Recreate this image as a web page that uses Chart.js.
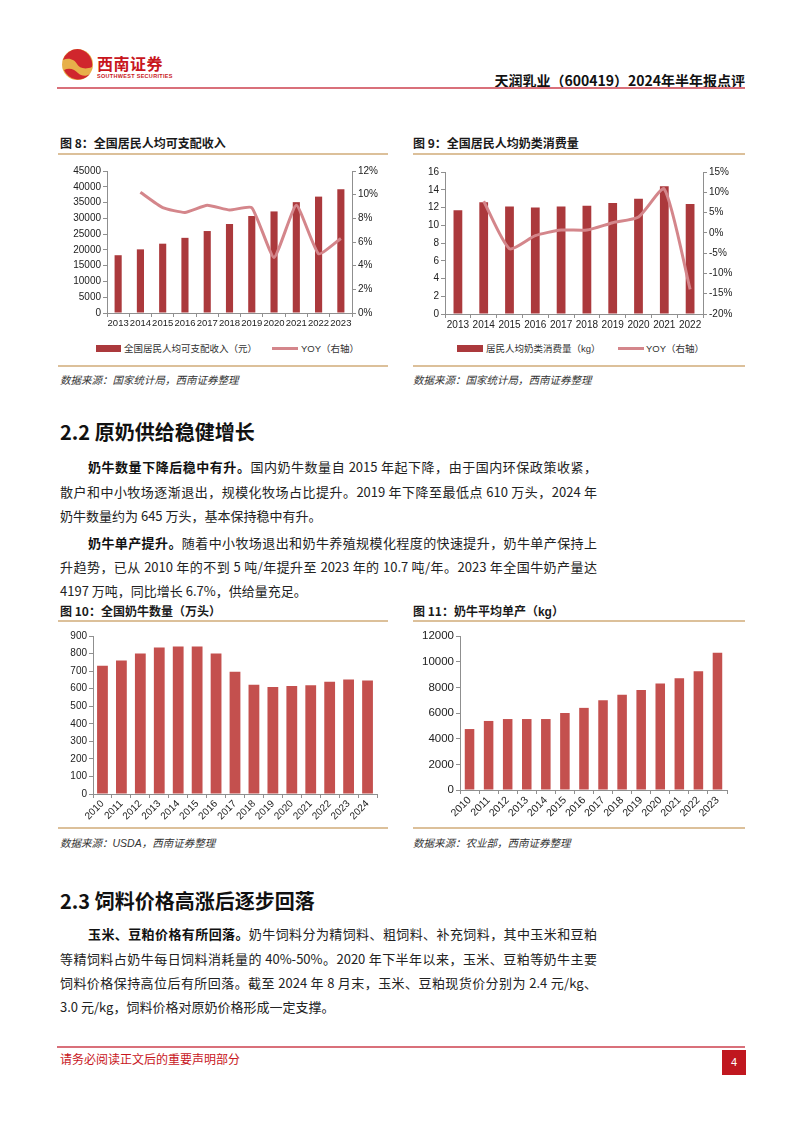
<!DOCTYPE html>
<html lang="zh-CN">
<head>
<meta charset="utf-8">
<title>天润乳业（600419）2024年半年报点评</title>
<script src="https://cdn.jsdelivr.net/npm/chart.js@4.4.1/dist/chart.umd.min.js"></script>
<style>
  html, body { margin: 0; padding: 0; background: #fff; }
  #page { position: relative; width: 802px; height: 1133px; overflow: hidden; font-family: "Noto Sans CJK SC", "Noto Sans", sans-serif; color: #1a1a1a; }
  .abs { position: absolute; }
  .rule-red { position: absolute; left: 57px; width: 688px; height: 2px; background: #d9707a; }
  .rule-tan { position: absolute; height: 2px; background: #dcc09a; }
  .figtitle { position: absolute; font-size: 12px; font-weight: 700; line-height: 16px; white-space: nowrap; }
  .source { position: absolute; font-size: 10.5px; font-style: italic; line-height: 14px; color: #333; white-space: nowrap; }
  .h2 { position: absolute; left: 60px; font-size: 20px; font-weight: 700; line-height: 26px; white-space: nowrap; color: #111; }
  .ln { position: absolute; left: 60px; width: 537px; font-size: 13px; line-height: 18px; text-align: justify; text-align-last: justify; color: #222; }
  .ln.first { left: 88px; width: 509px; }
  .ln.last { text-align-last: left; }
  .ln b { font-weight: 700; color: #111; }
  .box { position: absolute; }
  .legend { position: absolute; font-size: 9.5px; line-height: 12px; white-space: nowrap; color: #333; }
  .sw-bar { position: absolute; height: 7px; }
  .sw-line { position: absolute; height: 3px; background: #d4868b; }
</style>
</head>
<body>
<div id="page">

  <!-- 页眉 -->
  <svg class="abs" style="left:61px;top:48px" width="33" height="33" viewBox="0 0 33 33">
    <circle cx="16.5" cy="16.5" r="15.5" fill="#e7b04a"/>
    <path d="M16.5 1 A15.5 15.5 0 0 0 2 12 C8 9 14 12 16 16 C18 20 24 22 31 19 A15.5 15.5 0 0 0 16.5 1 Z" fill="#d0262d"/>
    <path d="M3 22 C9 19 14 22 17 25 C20 28 25 29 29 26 A15.5 15.5 0 0 1 3 22 Z" fill="#d0262d"/>
  </svg>
  <div class="abs" style="left:97px;top:53px;font-size:16px;font-weight:700;color:#c8161d;line-height:20px;letter-spacing:0.5px">西南证券</div>
  <div class="abs" style="left:97px;top:73px;font-size:5.5px;font-weight:700;color:#c8161d;line-height:7px;font-family:'Liberation Sans',sans-serif;letter-spacing:0.3px">SOUTHWEST SECURITIES</div>
  <div class="abs" style="right:57px;top:71px;font-size:14px;font-weight:700;line-height:18px;white-space:nowrap;color:#111">天润乳业（600419）2024年半年报点评</div>
  <div class="rule-red" style="top:87px"></div>

  <!-- 图 8 -->
  <div class="figtitle" style="left:60px;top:135px">图 8：全国居民人均可支配收入</div>
  <div class="rule-tan" style="left:58px;top:153px;width:330px"></div>
  <div class="box" style="left:58px;top:158px;width:330px;height:180px"><canvas id="c8"></canvas></div>
  <div class="sw-bar" style="left:96px;top:345px;width:25px;background:#ab393c"></div>
  <div class="legend" style="left:124px;top:342px">全国居民人均可支配收入（元）</div>
  <div class="sw-line" style="left:272px;top:347px;width:26px"></div>
  <div class="legend" style="left:301px;top:342px"><span style="font-family:'Liberation Sans',sans-serif">YOY</span>（右轴）</div>
  <div class="rule-tan" style="left:58px;top:365px;width:330px"></div>
  <div class="source" style="left:60px;top:373px">数据来源：国家统计局，西南证券整理</div>

  <!-- 图 9 -->
  <div class="figtitle" style="left:413px;top:135px">图 9：全国居民人均奶类消费量</div>
  <div class="rule-tan" style="left:413px;top:153px;width:332px"></div>
  <div class="box" style="left:413px;top:158px;width:332px;height:180px"><canvas id="c9"></canvas></div>
  <div class="sw-bar" style="left:457px;top:345px;width:26px;background:#ab393c"></div>
  <div class="legend" style="left:486px;top:342px">居民人均奶类消费量（<span style="font-family:'Liberation Sans',sans-serif">kg</span>）</div>
  <div class="sw-line" style="left:618px;top:347px;width:26px"></div>
  <div class="legend" style="left:646px;top:342px"><span style="font-family:'Liberation Sans',sans-serif">YOY</span>（右轴）</div>
  <div class="rule-tan" style="left:413px;top:365px;width:332px"></div>
  <div class="source" style="left:413px;top:373px">数据来源：国家统计局，西南证券整理</div>

  <!-- 2.2 -->
  <div class="h2" style="top:419px">2.2 原奶供给稳健增长</div>
  <div class="ln first" style="top:458px"><b>奶牛数量下降后稳中有升。</b>国内奶牛数量自 2015 年起下降，由于国内环保政策收紧，</div>
  <div class="ln" style="top:483px">散户和中小牧场逐渐退出，规模化牧场占比提升。2019 年下降至最低点 610 万头，2024 年</div>
  <div class="ln last" style="top:507px">奶牛数量约为 645 万头，基本保持稳中有升。</div>
  <div class="ln first" style="top:534px"><b>奶牛单产提升。</b>随着中小牧场退出和奶牛养殖规模化程度的快速提升，奶牛单产保持上</div>
  <div class="ln" style="top:558px">升趋势，已从 2010 年的不到 5 吨/年提升至 2023 年的 10.7 吨/年。2023 年全国牛奶产量达</div>
  <div class="ln last" style="top:582px">4197 万吨，同比增长 6.7%，供给量充足。</div>

  <!-- 图 10 -->
  <div class="figtitle" style="left:60px;top:603px">图 10：全国奶牛数量（万头）</div>
  <div class="rule-tan" style="left:58px;top:620px;width:330px"></div>
  <div class="box" style="left:58px;top:626px;width:330px;height:200px"><canvas id="c10"></canvas></div>
  <div class="rule-tan" style="left:58px;top:827px;width:330px"></div>
  <div class="source" style="left:60px;top:836px">数据来源：<span style="font-family:'Liberation Sans',sans-serif">USDA</span>，西南证券整理</div>

  <!-- 图 11 -->
  <div class="figtitle" style="left:413px;top:603px">图 11：奶牛平均单产（<span style="font-family:'Liberation Sans',sans-serif">kg</span>）</div>
  <div class="rule-tan" style="left:413px;top:620px;width:332px"></div>
  <div class="box" style="left:413px;top:626px;width:332px;height:200px"><canvas id="c11"></canvas></div>
  <div class="rule-tan" style="left:413px;top:827px;width:332px"></div>
  <div class="source" style="left:413px;top:836px">数据来源：农业部，西南证券整理</div>

  <!-- 2.3 -->
  <div class="h2" style="top:888px">2.3 饲料价格高涨后逐步回落</div>
  <div class="ln first" style="top:925px"><b>玉米、豆粕价格有所回落。</b>奶牛饲料分为精饲料、粗饲料、补充饲料，其中玉米和豆粕</div>
  <div class="ln" style="top:950px">等精饲料占奶牛每日饲料消耗量的 40%-50%。2020 年下半年以来，玉米、豆粕等奶牛主要</div>
  <div class="ln" style="top:974px">饲料价格保持高位后有所回落。截至 2024 年 8 月末，玉米、豆粕现货价分别为 2.4 元/kg、</div>
  <div class="ln last" style="top:998px">3.0 元/kg，饲料价格对原奶价格形成一定支撑。</div>

  <!-- 页脚 -->
  <div class="rule-red" style="top:1046px"></div>
  <div class="abs" style="left:60px;top:1051px;font-size:12px;line-height:16px;color:#c8161d;white-space:nowrap">请务必阅读正文后的重要声明部分</div>
  <div class="abs" style="left:722px;top:1050px;width:24px;height:25px;background:#c0171f;color:#fff;font-size:11px;line-height:25px;text-align:center;font-family:'Liberation Sans',sans-serif">4</div>
</div>

<script>
// 图8 全国居民人均可支配收入
const years8 = ["2013", "2014", "2015", "2016", "2017", "2018", "2019", "2020", "2021", "2022", "2023"];
const income = [18311, 20167, 21966, 23821, 25974, 28228, 30733, 32189, 35128, 36883, 39218];
const incomeYoy = [null, 10.2, 8.9, 8.5, 9.1, 8.7, 8.9, 4.7, 9.1, 5.0, 6.3];

// 图9 居民人均奶类消费量
const years9 = ["2013", "2014", "2015", "2016", "2017", "2018", "2019", "2020", "2021", "2022"];
const milkKg = [11.7, 12.6, 12.1, 12.0, 12.1, 12.2, 12.5, 13.0, 14.4, 12.4];
const milkYoy = [null, 7.8, -3.9, -0.7, 0.7, 0.7, 2.5, 3.9, 10.8, -13.9];

// 图10 全国奶牛数量（万头）
const years10 = ["2010", "2011", "2012", "2013", "2014", "2015", "2016", "2017", "2018", "2019", "2020", "2021", "2022", "2023", "2024"];
const cows = [730, 760, 800, 835, 840, 840, 800, 697, 622, 610, 615, 620, 640, 652, 646];

// 图11 奶牛平均单产（kg）
const years11 = ["2010", "2011", "2012", "2013", "2014", "2015", "2016", "2017", "2018", "2019", "2020", "2021", "2022", "2023"];
const yieldKg = [4750, 5380, 5530, 5530, 5530, 6000, 6400, 7000, 7420, 7800, 8300, 8700, 9250, 10700];

const darkRed = "#ab393c";
const red = "#c4504e";
const pink = "#d4868b";
const axisColor = "#8f8f8f";
const numFont = "'Liberation Sans', Arial, sans-serif";

// 固定坐标轴尺寸，保证绘图区位置
const fixW = w => s => { s.width = w; };
const fixH = h => s => { s.height = h; };

function axis(extra) {
  const base = {
    grid: { drawOnChartArea: false, drawTicks: true, tickLength: 4, color: axisColor },
    border: { color: axisColor, width: 1 },
    ticks: { color: "#222", font: { family: numFont, size: 10 }, padding: 2 },
  };
  return Object.assign(base, extra, {
    grid: Object.assign(base.grid, extra.grid || {}),
    ticks: Object.assign(base.ticks, extra.ticks || {}),
  });
}

const common = {
  responsive: true,
  maintainAspectRatio: false,
  animation: false,
  plugins: { legend: { display: false }, tooltip: { enabled: false } },
};

new Chart(document.getElementById("c8"), {
  type: "bar",
  data: {
    labels: years8,
    datasets: [
      { type: "line", data: incomeYoy, yAxisID: "y1", borderColor: pink, borderWidth: 3, pointRadius: 0, tension: 0.15, order: 0 },
      { type: "bar", data: income, yAxisID: "y", backgroundColor: darkRed, barPercentage: 0.32, categoryPercentage: 1, order: 1 },
    ],
  },
  options: Object.assign({}, common, {
    layout: { padding: { top: 13, left: 0, right: 0, bottom: 0 } },
    scales: {
      x: axis({ grid: { offset: true }, ticks: { autoSkip: false, maxRotation: 0, minRotation: 0, padding: 1, font: { family: numFont, size: 9.5 } }, afterFit: fixH(25) }),
      y: axis({ position: "left", min: 0, max: 45000, ticks: { stepSize: 5000, callback: v => String(v) }, afterFit: fixW(49) }),
      y1: axis({ position: "right", min: 0, max: 12, ticks: { stepSize: 2, callback: v => v + "%" }, afterFit: fixW(36) }),
    },
  }),
});

new Chart(document.getElementById("c9"), {
  type: "bar",
  data: {
    labels: years9,
    datasets: [
      { type: "line", data: milkYoy, yAxisID: "y1", borderColor: pink, borderWidth: 3, pointRadius: 0, tension: 0.2, order: 0 },
      { type: "bar", data: milkKg, yAxisID: "y", backgroundColor: darkRed, barPercentage: 0.34, categoryPercentage: 1, order: 1 },
    ],
  },
  options: Object.assign({}, common, {
    layout: { padding: { top: 14, left: 0, right: 0, bottom: 0 } },
    scales: {
      x: axis({ grid: { offset: true }, ticks: { autoSkip: false, maxRotation: 0, minRotation: 0, padding: 1 }, afterFit: fixH(24) }),
      y: axis({ position: "left", min: 0, max: 16, ticks: { stepSize: 2 }, afterFit: fixW(32) }),
      y1: axis({ position: "right", min: -20, max: 15, ticks: { stepSize: 5, callback: v => v + "%" }, afterFit: fixW(42) }),
    },
  }),
});

new Chart(document.getElementById("c10"), {
  type: "bar",
  data: {
    labels: years10,
    datasets: [{ data: cows, backgroundColor: red, barPercentage: 0.57, categoryPercentage: 1 }],
  },
  options: Object.assign({}, common, {
    layout: { padding: { top: 10, left: 0, right: 11, bottom: 0 } },
    scales: {
      x: axis({ grid: { offset: true }, ticks: { autoSkip: false, maxRotation: 45, minRotation: 45, padding: 0 }, afterFit: fixH(32) }),
      y: axis({ min: 0, max: 900, ticks: { stepSize: 100 }, afterFit: fixW(35) }),
    },
  }),
});

new Chart(document.getElementById("c11"), {
  type: "bar",
  data: {
    labels: years11,
    datasets: [{ data: yieldKg, backgroundColor: red, barPercentage: 0.5, categoryPercentage: 1 }],
  },
  options: Object.assign({}, common, {
    layout: { padding: { top: 10, left: 0, right: 18, bottom: 0 } },
    scales: {
      x: axis({ grid: { offset: true }, ticks: { autoSkip: false, maxRotation: 45, minRotation: 45, padding: 0, font: { family: numFont, size: 10.5 } }, afterFit: fixH(36) }),
      y: axis({ min: 0, max: 12000, ticks: { stepSize: 2000, callback: v => String(v), font: { family: numFont, size: 11.5 } }, afterFit: fixW(47) }),
    },
  }),
});
</script>
</body>
</html>
